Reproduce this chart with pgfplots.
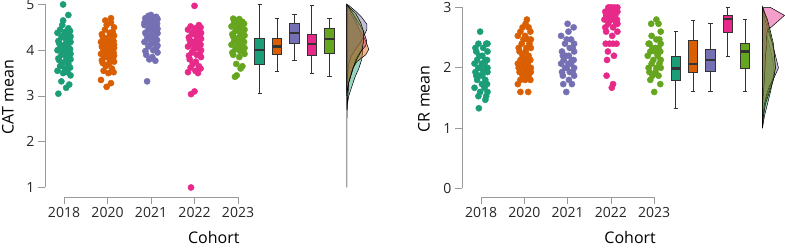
\documentclass[border=0pt]{standalone}
\usepackage{fontspec}
\setmainfont{Open Sans}
\usepackage{pgfplots}
\pgfplotsset{compat=1.18}
\usepgfplotslibrary{statistics}
\definecolor{c1}{HTML}{1B9E77}
\definecolor{c2}{HTML}{D95F02}
\definecolor{c3}{HTML}{7570B3}
\definecolor{c4}{HTML}{E7298A}
\definecolor{c5}{HTML}{66A61E}
\definecolor{axgray}{HTML}{9A9A9A}
\definecolor{boxline}{HTML}{333333}
\pgfplotsset{
 raincloud/.style={
  axis lines=left, axis line style={draw=none},
  tick align=outside, major tick length=7pt,
  tick style={color=axgray, line width=0.7pt},
  ticklabel style={font=\fontsize{14}{16}\selectfont, text=black!85},
  label style={font=\fontsize{16}{19}\selectfont},
  clip=false, scale only axis,
  /pgf/number format/assume math mode=true,
  boxplot/draw direction=y,
  boxplot/every median/.style={line width=2.2pt, draw=boxline},
  xtick={1,2,3,4,5}, xticklabels={2018,2020,2021,2022,2023},
 },
 pts/.style={only marks, mark=*, mark size=3.1pt, color=#1},
 bx/.style={fill=#1, draw=boxline, line width=1pt},
 dens/.style={fill=#1, fill opacity=0.45, draw=black, line width=0.5pt},
}
\begin{document}
\begin{tikzpicture}
\path[use as bounding box] (0,0) rectangle (785pt,248pt);
% ---------------- Left panel: CAT mean ----------------
\begin{axis}[raincloud, at={(45pt,51pt)}, anchor=south west,
  x=43.5pt, y=45.75pt, xmin=0.563, xmax=8.1, ymin=0.792, ymax=5.07,
  ytick={1,2,3,4,5},
  xlabel={Cohort}, ylabel={CAT mean},
  xlabel style={at={([yshift=-47pt]axis description cs:0.515,0)}, anchor=base, inner sep=0pt},
  ylabel style={at={([xshift=-37pt,yshift=2pt]axis description cs:0,0.5)}, anchor=center},
]
\draw[axgray, line width=0.7pt] (axis cs:1,0.792) -- (axis cs:5,0.792);
\draw[axgray, line width=0.7pt] (axis cs:0.563,1) -- (axis cs:0.563,5);
% strips
\addplot[pts=c1] coordinates {(0.87,3.05) (1.05,3.18) (1.12,3.25) (0.94,3.32) (1.15,3.45) (0.98,3.5) (1.08,3.52) (0.85,3.55) (1.02,3.6) (1.14,3.62) (0.91,3.65) (1.10,3.7) (0.96,3.72) (1.03,3.75) (0.89,3.78) (1.15,3.8) (0.87,3.82) (1.05,3.85) (1.12,3.88) (0.94,3.9) (1.15,3.92) (0.98,3.95) (1.08,3.98) (0.85,4.0) (1.02,4.0) (1.14,4.02) (0.91,4.05) (1.10,4.08) (0.96,4.1) (1.03,4.12) (0.89,4.15) (1.15,4.18) (0.87,4.2) (1.05,4.22) (1.12,4.25) (0.94,4.28) (1.15,4.3) (0.98,4.32) (1.08,4.35) (0.85,4.38) (1.02,4.4) (1.14,4.42) (0.91,4.45) (1.10,4.48) (0.96,4.55) (0.98,4.65) (1.10,4.77) (0.98,5.0)};
\addplot[pts=c2] coordinates {(1.98,3.2) (2.08,3.28) (1.85,3.35) (2.02,3.5) (2.14,3.52) (1.91,3.55) (2.10,3.6) (1.96,3.65) (2.03,3.7) (1.89,3.72) (2.15,3.75) (1.87,3.78) (2.05,3.8) (2.12,3.82) (1.94,3.85) (2.15,3.88) (1.98,3.9) (2.08,3.9) (1.85,3.92) (2.02,3.95) (2.14,3.95) (1.91,3.98) (2.10,4.0) (1.96,4.0) (2.03,4.02) (1.89,4.05) (2.15,4.05) (1.87,4.08) (2.05,4.08) (2.12,4.1) (1.94,4.1) (2.15,4.12) (1.98,4.15) (2.08,4.15) (1.85,4.18) (2.02,4.2) (2.14,4.2) (1.91,4.22) (2.10,4.25) (1.96,4.25) (2.03,4.28) (1.89,4.3) (2.15,4.32) (1.87,4.35) (2.05,4.38) (2.12,4.4) (1.94,4.45) (2.15,4.5) (1.98,4.55) (2.08,4.6) (1.95,4.65) (2.08,4.7)};
\addplot[pts=c3] coordinates {(2.91,3.32) (3.10,3.77) (2.96,3.8) (3.03,3.85) (2.89,3.9) (3.15,3.95) (2.87,3.98) (3.05,4.0) (3.12,4.05) (2.94,4.08) (3.15,4.1) (2.98,4.12) (3.08,4.15) (2.85,4.18) (3.02,4.2) (3.14,4.22) (2.91,4.25) (3.10,4.28) (2.96,4.3) (3.03,4.32) (2.89,4.35) (3.15,4.37) (2.87,4.38) (3.05,4.4) (3.12,4.42) (2.94,4.45) (3.15,4.47) (2.98,4.5) (3.08,4.52) (2.85,4.55) (3.02,4.57) (3.14,4.58) (2.91,4.6) (3.10,4.62) (2.96,4.63) (3.03,4.65) (2.89,4.67) (3.15,4.68) (2.87,4.7) (3.05,4.72) (3.12,4.73) (2.94,4.75) (3.0,4.77) (2.98,4.45) (3.08,4.5) (2.85,4.6) (3.02,4.65)};
\addplot[pts=c4] coordinates {(3.92,1.0) (3.92,3.04) (4.0,3.1) (4.08,3.5) (3.85,3.52) (4.02,3.55) (4.14,3.6) (3.91,3.62) (4.10,3.65) (3.96,3.7) (4.03,3.75) (3.89,3.8) (4.15,3.85) (3.87,3.88) (4.05,3.9) (4.12,3.92) (3.94,3.95) (4.15,4.0) (3.98,4.02) (4.08,4.05) (3.85,4.08) (4.02,4.1) (4.14,4.12) (3.91,4.14) (4.10,4.15) (3.96,4.18) (4.03,4.2) (3.89,4.22) (4.15,4.25) (3.87,4.28) (4.05,4.3) (4.12,4.32) (3.94,4.35) (4.15,4.38) (3.98,4.4) (4.08,4.42) (3.85,4.45) (4.02,4.48) (4.14,4.5) (3.91,4.52) (4.10,4.55) (4.0,4.97)};
\addplot[pts=c5] coordinates {(4.93,3.42) (4.97,3.45) (5.06,3.6) (5.10,3.65) (4.96,3.7) (5.03,3.85) (4.89,3.9) (5.15,3.92) (4.87,3.95) (5.05,3.98) (5.12,4.0) (4.94,4.02) (5.15,4.05) (4.98,4.08) (5.08,4.1) (4.85,4.12) (5.02,4.15) (5.14,4.18) (4.91,4.2) (5.10,4.22) (4.96,4.25) (5.03,4.28) (4.89,4.3) (5.15,4.32) (4.87,4.35) (5.05,4.38) (5.12,4.4) (4.94,4.42) (5.15,4.45) (4.98,4.48) (5.08,4.5) (4.85,4.52) (5.02,4.55) (5.14,4.58) (4.91,4.6) (5.10,4.62) (4.96,4.65) (5.03,4.68) (4.89,4.69)};
% boxes
\addplot[bx=c1, boxplot prepared={draw position=5.5, median=4.0, upper quartile=4.26, lower quartile=3.69, upper whisker=5.0, lower whisker=3.06, box extend=0.22, whisker extend=0.1}] coordinates {};
\addplot[bx=c2, boxplot prepared={draw position=5.9, median=4.08, upper quartile=4.26, lower quartile=3.9, upper whisker=4.69, lower whisker=3.53, box extend=0.22, whisker extend=0.1}] coordinates {};
\addplot[bx=c3, boxplot prepared={draw position=6.3, median=4.37, upper quartile=4.58, lower quartile=4.15, upper whisker=4.77, lower whisker=3.77, box extend=0.22, whisker extend=0.1}] coordinates {};
\addplot[bx=c4, boxplot prepared={draw position=6.7, median=4.14, upper quartile=4.35, lower quartile=3.88, upper whisker=4.97, lower whisker=3.5, box extend=0.22, whisker extend=0.1}] coordinates {};
\addplot[bx=c5, boxplot prepared={draw position=7.1, median=4.24, upper quartile=4.48, lower quartile=3.92, upper whisker=4.69, lower whisker=3.42, box extend=0.22, whisker extend=0.1}] coordinates {};
% densities
\addplot[dens=c1] coordinates {(7.5,5.0) (7.638,4.8) (7.73,4.6) (7.8,4.4) (7.845,4.2) (7.868,4.0) (7.845,3.8) (7.776,3.6) (7.684,3.4) (7.615,3.2) (7.546,3.0) (7.511,2.8) (7.5,2.7)} -- cycle;
\addplot[dens=c2] coordinates {(7.5,5.0) (7.592,4.8) (7.707,4.6) (7.822,4.4) (7.937,4.2) (8.006,4.02) (7.937,3.9) (7.73,3.75) (7.638,3.6) (7.592,3.45) (7.546,3.3) (7.511,3.1) (7.5,3.0)} -- cycle;
\addplot[dens=c3] coordinates {(7.5,5.0) (7.546,4.98) (7.707,4.85) (7.845,4.72) (7.96,4.57) (7.96,4.45) (7.89,4.3) (7.8,4.15) (7.684,4.0) (7.592,3.85) (7.546,3.7) (7.523,3.5) (7.511,3.3) (7.5,3.1)} -- cycle;
\addplot[dens=c4] coordinates {(7.5,5.0) (7.523,4.97) (7.638,4.8) (7.776,4.6) (7.89,4.4) (7.96,4.2) (7.937,4.1) (7.8,3.95) (7.707,3.8) (7.661,3.65) (7.615,3.5) (7.546,3.3) (7.534,3.1) (7.518,2.9) (7.505,2.5) (7.502,2.0) (7.502,1.5) (7.5,1.0)} -- cycle;
\addplot[dens=c5] coordinates {(7.5,5.0) (7.546,4.95) (7.707,4.8) (7.822,4.6) (7.89,4.4) (7.89,4.2) (7.845,4.0) (7.73,3.8) (7.638,3.6) (7.592,3.45) (7.546,3.3) (7.511,3.1) (7.5,3.0)} -- cycle;
\end{axis}
% ---------------- Right panel: CR mean ----------------
\begin{axis}[raincloud, at={(462pt,51pt)}, anchor=south west,
  x=43.3pt, y=60.33pt, xmin=0.561, xmax=8.0, ymin=-0.141, ymax=3.05,
  ytick={0,1,2,3},
  xlabel={Cohort}, ylabel={CR mean},
  xlabel style={at={([yshift=-47pt]axis description cs:0.522,0)}, anchor=base, inner sep=0pt},
  ylabel style={at={([xshift=-38pt,yshift=2pt]axis description cs:0,0.5)}, anchor=center},
]
\draw[axgray, line width=0.7pt] (axis cs:1,-0.141) -- (axis cs:5,-0.141);
\draw[axgray, line width=0.7pt] (axis cs:0.561,0) -- (axis cs:0.561,3);
\addplot[pts=c1] coordinates {(0.95,1.33) (1.10,1.47) (1.12,1.53) (0.94,1.53) (1.15,1.6) (0.98,1.6) (1.08,1.67) (0.85,1.67) (1.02,1.73) (1.14,1.73) (0.91,1.8) (1.10,1.8) (0.96,1.87) (1.03,1.87) (0.89,1.87) (1.15,1.93) (0.87,1.93) (1.05,1.93) (1.12,2.0) (0.94,2.0) (1.15,2.0) (0.98,2.0) (1.08,2.07) (0.85,2.07) (1.02,2.07) (1.14,2.13) (0.91,2.13) (1.10,2.13) (0.96,2.2) (1.03,2.2) (0.89,2.27) (1.15,2.27) (0.87,2.33) (1.05,2.33) (1.12,2.4) (0.94,2.4) (1.15,2.4) (0.98,2.6)};
\addplot[pts=c2] coordinates {(1.91,1.6) (2.09,1.6) (1.85,1.73) (2.02,1.8) (2.14,1.8) (1.91,1.8) (2.10,1.87) (1.96,1.87) (2.03,1.93) (1.89,1.93) (2.15,1.93) (1.87,2.0) (2.05,2.0) (2.12,2.0) (1.94,2.0) (2.15,2.0) (1.98,2.07) (2.08,2.07) (1.85,2.07) (2.02,2.13) (2.14,2.13) (1.91,2.13) (2.10,2.2) (1.96,2.2) (2.03,2.27) (1.89,2.27) (2.15,2.33) (1.87,2.33) (2.05,2.33) (2.12,2.4) (1.94,2.4) (2.15,2.47) (1.98,2.47) (2.08,2.47) (1.85,2.53) (2.02,2.53) (2.14,2.6) (1.91,2.6) (2.10,2.67) (1.96,2.67) (2.03,2.73) (2.06,2.8)};
\addplot[pts=c3] coordinates {(2.97,1.6) (3.10,1.73) (2.90,1.73) (3.03,1.8) (2.89,1.87) (3.15,1.87) (2.87,1.93) (3.05,1.93) (3.12,1.93) (2.94,2.0) (3.15,2.0) (2.98,2.0) (3.08,2.07) (2.85,2.07) (3.02,2.07) (3.14,2.13) (2.91,2.13) (3.10,2.13) (2.96,2.2) (3.03,2.2) (2.89,2.2) (3.15,2.27) (2.87,2.27) (3.05,2.33) (3.12,2.33) (2.94,2.4) (3.15,2.4) (2.98,2.47) (3.08,2.47) (2.85,2.53) (3.02,2.6) (3.14,2.67) (3.0,2.73)};
\addplot[pts=c4] coordinates {(4.02,1.67) (4.05,1.73) (3.90,1.87) (3.91,2.13) (4.07,2.2) (3.93,2.27) (3.88,2.4) (3.97,2.4) (4.05,2.4) (4.13,2.4) (4.03,2.53) (3.89,2.6) (4.15,2.6) (3.87,2.67) (4.05,2.67) (4.12,2.73) (3.94,2.73) (4.15,2.73) (3.98,2.8) (4.08,2.8) (3.85,2.8) (4.02,2.8) (4.14,2.8) (3.91,2.87) (4.10,2.87) (3.96,2.87) (4.03,2.87) (3.89,2.87) (4.15,2.93) (3.87,2.93) (4.05,2.93) (4.12,2.93) (3.94,3.0) (4.15,3.0) (3.98,3.0) (4.08,3.0) (3.95,2.93) (4.02,3.0)};
\addplot[pts=c5] coordinates {(5.0,1.6) (5.14,1.73) (4.91,1.8) (5.10,1.87) (4.96,1.87) (5.03,1.93) (4.89,1.93) (5.15,2.0) (4.87,2.0) (5.05,2.0) (5.12,2.07) (4.94,2.07) (5.15,2.13) (4.98,2.13) (5.08,2.2) (4.85,2.2) (5.02,2.27) (5.14,2.27) (4.91,2.27) (5.10,2.33) (4.96,2.33) (5.03,2.33) (4.89,2.4) (5.15,2.4) (4.87,2.4) (5.05,2.47) (5.12,2.47) (4.94,2.53) (5.15,2.6) (4.93,2.73) (5.10,2.73) (5.05,2.8)};
\addplot[bx=c1, boxplot prepared={draw position=5.5, median=1.99, upper quartile=2.18, lower quartile=1.79, upper whisker=2.6, lower whisker=1.33, box extend=0.22, whisker extend=0.1}] coordinates {};
\addplot[bx=c2, boxplot prepared={draw position=5.9, median=2.07, upper quartile=2.45, lower quartile=1.92, upper whisker=2.79, lower whisker=1.6, box extend=0.22, whisker extend=0.1}] coordinates {};
\addplot[bx=c3, boxplot prepared={draw position=6.3, median=2.13, upper quartile=2.31, lower quartile=1.94, upper whisker=2.73, lower whisker=1.6, box extend=0.22, whisker extend=0.1}] coordinates {};
\addplot[bx=c4, boxplot prepared={draw position=6.7, median=2.81, upper quartile=2.87, lower quartile=2.59, upper whisker=3.0, lower whisker=2.19, box extend=0.22, whisker extend=0.1}] coordinates {};
\addplot[bx=c5, boxplot prepared={draw position=7.1, median=2.27, upper quartile=2.4, lower quartile=1.99, upper whisker=2.8, lower whisker=1.6, box extend=0.22, whisker extend=0.1}] coordinates {};
\addplot[dens=c1] coordinates {(7.5,3.0) (7.507,2.98) (7.535,2.8) (7.581,2.6) (7.65,2.4) (7.719,2.2) (7.766,2.0) (7.742,1.8) (7.685,1.6) (7.615,1.4) (7.546,1.2) (7.5,1.0)} -- cycle;
\addplot[dens=c2] coordinates {(7.5,3.0) (7.523,2.98) (7.592,2.8) (7.662,2.6) (7.731,2.4) (7.777,2.2) (7.8,2.0) (7.731,1.8) (7.639,1.6) (7.546,1.4) (7.512,1.2) (7.5,1.0)} -- cycle;
\addplot[dens=c3] coordinates {(7.5,3.0) (7.512,2.98) (7.558,2.8) (7.639,2.6) (7.731,2.4) (7.8,2.2) (7.87,2.0) (7.777,1.85) (7.662,1.7) (7.592,1.55) (7.546,1.4) (7.512,1.2) (7.5,1.0)} -- cycle;
\addplot[dens=c4] coordinates {(7.5,3.0) (7.685,3.0) (8.008,2.87) (7.823,2.75) (7.615,2.62) (7.592,2.5) (7.604,2.4) (7.569,2.2) (7.558,2.0) (7.546,1.8) (7.523,1.6) (7.507,1.4) (7.5,1.2)} -- cycle;
\addplot[dens=c5] coordinates {(7.5,3.0) (7.615,2.8) (7.685,2.6) (7.754,2.4) (7.777,2.2) (7.8,2.0) (7.754,1.8) (7.662,1.6) (7.569,1.4) (7.523,1.2) (7.5,1.0)} -- cycle;
\end{axis}
\end{tikzpicture}
\end{document}
